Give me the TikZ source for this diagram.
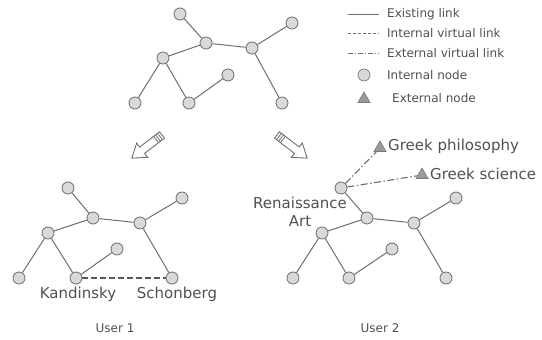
\documentclass[tikz,border=0pt]{standalone}
\usepackage{fontspec}
\setmainfont{DejaVu Sans}
\usetikzlibrary{shapes.geometric}
\definecolor{lnc}{HTML}{6E6E6E}
\definecolor{txc}{HTML}{505050}
\definecolor{ndf}{HTML}{D9D9D9}
\definecolor{ndd}{HTML}{7A7A7A}
\definecolor{trf}{HTML}{9A9A9A}
\tikzset{
  inode/.style={circle,draw=ndd,fill=ndf,line width=0.9pt,minimum size=12pt,inner sep=0pt},
  enode/.style={regular polygon,regular polygon sides=3,draw=ndd,fill=trf,line width=0.6pt,minimum size=14pt,inner sep=0pt},
  link/.style={draw=lnc,line width=1pt},
  ivlink/.style={draw=lnc!80!black,line width=1.5pt,dash pattern=on 6pt off 3pt},
  evlink/.style={draw=lnc,line width=1.1pt,dash pattern=on 7pt off 2.5pt on 1.5pt off 2.5pt},
  lbl/.style={text=txc,inner sep=0pt,font=\fontsize{15}{17}\selectfont},
  small/.style={text=txc,inner sep=0pt,font=\fontsize{12}{14}\selectfont},
  blockarrow/.style={draw=lnc,fill=white,line width=0.9pt,line join=miter}
}
\begin{document}
\begin{tikzpicture}[x=1pt,y=-1pt]
\useasboundingbox (0,0) rectangle (542,340);
% ---- top graph
\node[inode] (t1) at (180,14) {};
\node[inode] (t2) at (206,43) {};
\node[inode] (t3) at (163,58) {};
\node[inode] (t4) at (252,48) {};
\node[inode] (t5) at (292,23) {};
\node[inode] (t6) at (228,75) {};
\node[inode] (t7) at (135,103) {};
\node[inode] (t8) at (189,103) {};
\node[inode] (t9) at (282,103) {};
\draw[link] (t1)--(t2) (t2)--(t3) (t2)--(t4) (t4)--(t5) (t3)--(t7) (t3)--(t8) (t8)--(t6) (t4)--(t9);
% ---- legend
\coordinate (l1a) at (348,14); \coordinate (l1b) at (379,14);
\coordinate (l2a) at (348,33); \coordinate (l2b) at (379,33);
\coordinate (l3a) at (348,53); \coordinate (l3b) at (379,53);
\draw[draw=lnc,line width=0.8pt] (l1a)--(l1b);
\draw[draw=lnc,line width=0.8pt,dash pattern=on 3pt off 2pt] (l2a)--(l2b);
\draw[draw=lnc,line width=0.8pt,dash pattern=on 5pt off 2pt on 1pt off 2pt] (l3a)--(l3b);
\node[small,anchor=west] (lt1) at (387,14) {Existing link};
\node[small,anchor=west] (lt2) at (387,33) {Internal virtual link};
\node[small,anchor=west] (lt3) at (387,53) {External virtual link};
\node[inode,line width=0.7pt] (lc) at (364,75) {};
\node[small,anchor=west] (lt4) at (387,75) {Internal node};
\node[enode] (ltr) at (364,99) {};
\node[small,anchor=west] (lt5) at (392,98) {External node};
% ---- block arrows
\begin{scope}[shift={(162,135)},rotate=217.5]
\draw[blockarrow] (0,-4)--(25,-4)--(25,-9)--(38,0)--(25,9)--(25,4)--(0,4)--cycle;
\draw[draw=lnc,line width=0.8pt] (2.5,-4)--(2.5,4) (5,-4)--(5,4) (7.5,-4)--(7.5,4);
\end{scope}
\begin{scope}[shift={(277,135)},rotate=-37.5]
\draw[blockarrow] (0,-4)--(25,-4)--(25,-9)--(38,0)--(25,9)--(25,4)--(0,4)--cycle;
\draw[draw=lnc,line width=0.8pt] (2.5,-4)--(2.5,4) (5,-4)--(5,4) (7.5,-4)--(7.5,4);
\end{scope}
% ---- user 1 graph
\node[inode] (a1) at (68,188) {};
\node[inode] (a2) at (93,218) {};
\node[inode] (a3) at (48,233) {};
\node[inode] (a4) at (140,223) {};
\node[inode] (a5) at (182,198) {};
\node[inode] (a6) at (117,249) {};
\node[inode] (a7) at (19,278) {};
\node[inode] (a8) at (76,278) {};
\node[inode] (a9) at (172,278) {};
\draw[link] (a1)--(a2) (a2)--(a3) (a2)--(a4) (a4)--(a5) (a3)--(a7) (a3)--(a8) (a8)--(a6) (a4)--(a9);
\draw[ivlink] (a8)--(a9);
\node[lbl] (kand) at (78,294) {Kandinsky};
\node[lbl] (scho) at (177,294) {Schonberg};
\node[small] (u1) at (115,328) {User 1};
% ---- user 2 graph
\node[inode] (b1) at (341,188) {};
\node[inode] (b2) at (367,218) {};
\node[inode] (b3) at (322,233) {};
\node[inode] (b4) at (414,223) {};
\node[inode] (b5) at (456,198) {};
\node[inode] (b6) at (392,249) {};
\node[inode] (b7) at (293,278) {};
\node[inode] (b8) at (349,278) {};
\node[inode] (b9) at (446,278) {};
\draw[link] (b1)--(b2) (b2)--(b3) (b2)--(b4) (b4)--(b5) (b3)--(b7) (b3)--(b8) (b8)--(b6) (b4)--(b9);
\node[enode] (gp) at (380,148) {};
\node[enode] (gs) at (422,175) {};
\draw[evlink] (b1)--(gp);
\draw[evlink] (b1)--(gs);
\node[lbl,anchor=west] (gpt) at (388,146) {Greek philosophy};
\node[lbl,anchor=west] (gst) at (430,174) {Greek science};
\node[lbl,align=center] (ren) at (300,212) {Renaissance\\[1pt]Art};
\node[small] (u2) at (380,328) {User 2};
\end{tikzpicture}
\end{document}
